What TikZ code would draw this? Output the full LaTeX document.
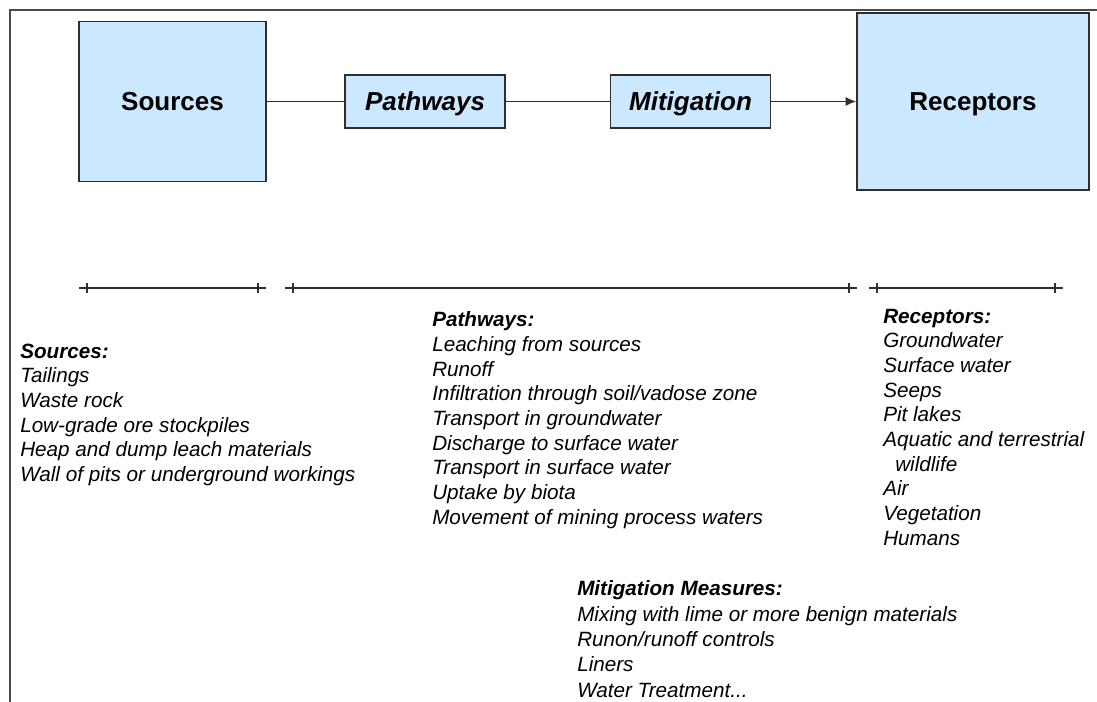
\documentclass[tikz,border=0pt]{standalone}
\usepackage{fontspec}
\setmainfont{Liberation Sans}
\usetikzlibrary{arrows.meta}
\definecolor{boxfill}{HTML}{CCE8FF}
\definecolor{edge}{HTML}{2E2E2E}
\definecolor{frame}{HTML}{4A4A4A}

\tikzset{
  stage/.style={draw=edge,fill=boxfill,line width=1.2pt,inner sep=0pt,
    text height=14pt,text depth=0pt,
    font=\fontsize{19.5}{22}\selectfont\bfseries},
  bigstage/.style={stage,minimum width=140pt,minimum height=120pt},
  smallstage/.style={stage,minimum width=120pt,minimum height=39.75pt,
    font=\fontsize{19.5}{22}\selectfont\bfseries\itshape},
  flow/.style={edge,line width=1.1pt},
  listing/.style={anchor=base west,align=left,inner sep=0pt,
    font=\fontsize{15.5}{18.5}\selectfont\itshape},
  span/.style={edge,line width=1.1pt}
}

\begin{document}
\begin{tikzpicture}[x=0.75pt,y=-0.75pt]
  \useasboundingbox (0,0) rectangle (1097,702);
  % frame
  \draw[frame,line width=1.3pt] (10,702) -- (10,10) -- (1097,10);

  % stage boxes
  \node[bigstage] (src) at (172.5,101.5) {Sources};
  \node[smallstage] (path) at (425,101.5) {Pathways};
  \node[smallstage] (mit) at (690.5,101.5) {Mitigation};
  \node[bigstage,minimum width=174pt,minimum height=132.75pt] (rec) at (973,101.5) {Receptors};

  \draw[flow] (src) -- (path);
  \draw[flow] (path) -- (mit);
  \draw[flow,-{Latex[length=8pt,width=7pt]}] (mit) -- (rec);

  % spans with ticks
  \foreach \a/\b in {79/266,285/857,869/1063}{
    \draw[span] (\a,288) -- (\b,288);
    \draw[span] (\a+8,283) -- (\a+8,293);
    \draw[span] (\b-8,283) -- (\b-8,293);
  }

  % lists (anchored on the last line)
  \node[listing] (srclist) at (20,481.5) {\textbf{Sources:}\\Tailings\\Waste rock\\Low-grade ore stockpiles\\Heap and dump leach materials\\Wall of pits or underground workings};
  \node[listing] (pathlist) at (432,524) {\textbf{Pathways:}\\Leaching from sources\\Runoff\\Infiltration through soil/vadose zone\\Transport in groundwater\\Discharge to surface water\\Transport in surface water\\Uptake by biota\\Movement of mining process waters};
  \node[listing] (reclist) at (883,545) {\textbf{Receptors:}\\Groundwater\\Surface water\\Seeps\\Pit lakes\\Aquatic and terrestrial\\\hspace*{9pt}wildlife\\Air\\Vegetation\\Humans};
  \node[listing,font=\fontsize{15.5}{19}\selectfont\itshape] (mitlist) at (577,697) {\textbf{Mitigation Measures:}\\Mixing with lime or more benign materials\\Runon/runoff controls\\Liners\\Water Treatment...};
\end{tikzpicture}
\end{document}
